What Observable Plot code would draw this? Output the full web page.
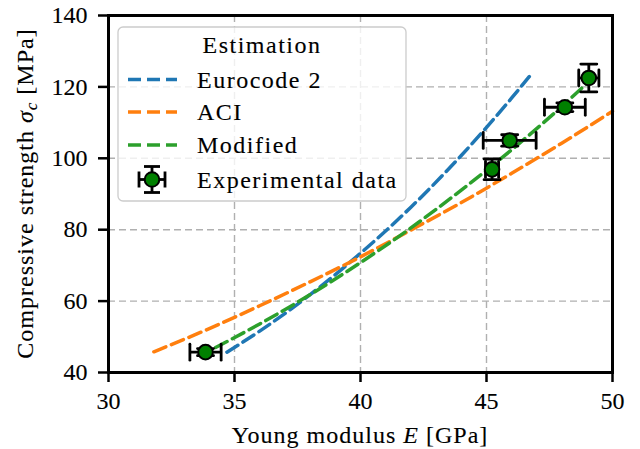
<!DOCTYPE html>
<html><head><meta charset="utf-8">
<script src="https://cdn.jsdelivr.net/npm/d3@7"></script>
<script src="https://cdn.jsdelivr.net/npm/@observablehq/plot@0.6"></script>
<style>body{margin:0;background:#fff} #chart{position:relative;width:640px;height:449px} #chart svg text{font-family:"Liberation Serif","DejaVu Serif",serif;stroke:black;stroke-width:0.12px}</style>
</head><body><div id="chart"></div>
<script>
const xTicks = [30, 35, 40, 45, 50];
const yTicks = [40, 60, 80, 100, 120, 140];

// Experimental data (E in GPa, sigma_c in MPa) with error bars
const expE    = [33.85, 45.22, 45.92, 48.11, 49.06];
const expS    = [45.7, 96.9, 105.0, 114.3, 122.5];
const expEErr = [0.62, 0.26, 1.05, 0.81, 0.40];
const expSErr = [1.0, 2.9, 1.6, 1.2, 3.9];

// Estimation curves
const ec2E = [34.7, 36, 38, 40, 42, 44, 46, 46.7];
const ec2S = [45.7, 51.6, 61.8, 73.4, 86.3, 100.8, 116.9, 122.9];
const aciE = [31.8, 34, 36, 38, 40, 42, 44, 46, 48, 50];
const aciS = [45.8, 52.3, 58.7, 65.4, 72.4, 79.9, 87.6, 95.8, 104.3, 113.2];
const modE = [34.25, 36, 38, 40, 42, 44, 46, 48, 49];
const modS = [47.0, 53.6, 61.8, 70.8, 80.5, 91.1, 102.4, 114.6, 121.1];

const seriesNames = ["Eurocode 2", "ACI", "Modified"];
const seriesColors = ["#1f77b4", "#ff7f0e", "#2ca02c"];
const expLabel = "Experimental data";
const legendTitle = "Estimation";

const toRows = (xs, ys) => xs.map((x, i) => ({E: x, S: ys[i]}));
const ec2 = toRows(ec2E, ec2S), aci = toRows(aciE, aciS), mod = toRows(modE, modS);
const exp = expE.map((e, i) => ({E: e, S: expS[i], xe: expEErr[i], ye: expSErr[i]}));

const DASH = "13,6";
const LW = 3.5;
const EBW = 2.8;
const CAP = 16;
const capShape = {draw(ctx, l) { ctx.moveTo(0, 0); ctx.lineTo(0, -l); }};
const FONT = "Liberation Serif, DejaVu Serif, serif";

const lineOpts = (c) => ({x: "E", y: "S", stroke: c, strokeWidth: LW, strokeDasharray: DASH, curve: "monotone-x"});
const capOpts = {length: CAP, anchor: "middle", shape: capShape, stroke: "black", strokeWidth: EBW};

const svg = Plot.plot({
  width: 640, height: 449,
  marginLeft: 108, marginRight: 28, marginTop: 15, marginBottom: 77,
  style: {fontFamily: FONT, fontSize: "24px", background: "white", overflow: "visible", color: "black"},
  x: {domain: [30, 50]},
  y: {domain: [40, 140]},
  marks: [
    Plot.gridX(xTicks.slice(1, -1), {stroke: "#b0b0b0", strokeOpacity: 1, strokeWidth: 1.4, strokeDasharray: "7,4"}),
    Plot.gridY(yTicks.slice(1, -1), {stroke: "#b0b0b0", strokeOpacity: 1, strokeWidth: 1.4, strokeDasharray: "7,4"}),
    Plot.line(ec2, lineOpts(seriesColors[0])),
    Plot.line(aci, lineOpts(seriesColors[1])),
    Plot.line(mod, lineOpts(seriesColors[2])),
    Plot.link(exp, {x1: d => d.E - d.xe, x2: d => d.E + d.xe, y1: "S", y2: "S", stroke: "black", strokeWidth: EBW}),
    Plot.link(exp, {x1: "E", x2: "E", y1: d => d.S - d.ye, y2: d => d.S + d.ye, stroke: "black", strokeWidth: EBW}),
    Plot.vector(exp, {x: d => d.E - d.xe, y: "S", rotate: 0, ...capOpts}),
    Plot.vector(exp, {x: d => d.E + d.xe, y: "S", rotate: 0, ...capOpts}),
    Plot.vector(exp, {x: "E", y: d => d.S - d.ye, rotate: 90, ...capOpts}),
    Plot.vector(exp, {x: "E", y: d => d.S + d.ye, rotate: 90, ...capOpts}),
    Plot.dot(exp, {x: "E", y: "S", r: 7.3, fill: "#008000", stroke: "black", strokeWidth: 2}),
    Plot.frame({stroke: "black", strokeWidth: 3}),
    Plot.axisX(xTicks, {tickSize: 10, strokeWidth: 2.5, tickPadding: 9, label: null, fill: "black"}),
    Plot.axisY(yTicks, {tickSize: 10, strokeWidth: 2.5, tickPadding: 11, label: null, fill: "black"})
  ]
});
document.getElementById("chart").appendChild(svg);

const s = d3.select(svg);
// Axis labels
const xl = s.append("text").attr("x", 360).attr("y", 443).attr("text-anchor", "middle")
  .attr("font-size", 24).attr("letter-spacing", "1px").attr("fill", "black");
xl.append("tspan").text("Young modulus ");
xl.append("tspan").attr("font-style", "italic").text("E");
xl.append("tspan").text(" [GPa]");

const yl = s.append("text").attr("transform", "translate(33,193.5) rotate(-90)").attr("text-anchor", "middle")
  .attr("font-size", 24).attr("letter-spacing", "1px").attr("fill", "black");
yl.append("tspan").text("Compressive strength ");
yl.append("tspan").attr("font-style", "italic").text("σ");
yl.append("tspan").attr("font-style", "italic").attr("font-size", 17).attr("dy", 4).text("c");
yl.append("tspan").attr("dy", -4).text(" [MPa]");

// Legend
const lg = s.append("g").attr("font-size", 24).attr("fill", "black").attr("text-anchor", "start");
lg.append("rect").attr("x", 118).attr("y", 27).attr("width", 288).attr("height", 174).attr("rx", 5)
  .attr("fill", "white").attr("fill-opacity", 0.8).attr("stroke", "#cccccc").attr("stroke-width", 1.3);
lg.append("text").attr("x", 262).attr("y", 53).attr("text-anchor", "middle").attr("letter-spacing", "1.5px").text(legendTitle);
const rowsY = [79.5, 112, 145];
seriesNames.forEach((name, i) => {
  lg.append("line").attr("x1", 128).attr("x2", 177).attr("y1", rowsY[i]).attr("y2", rowsY[i])
    .attr("stroke", seriesColors[i]).attr("stroke-width", LW).attr("stroke-dasharray", DASH);
  lg.append("text").attr("x", 197).attr("y", rowsY[i] + 8).attr("letter-spacing", "1.5px").text(name);
});
const ey = 179.5, ex = 152, h = CAP / 2;
const eg = lg.append("g").attr("stroke", "black").attr("stroke-width", EBW);
eg.append("line").attr("x1", ex - 13).attr("x2", ex + 13).attr("y1", ey).attr("y2", ey);
eg.append("line").attr("x1", ex).attr("x2", ex).attr("y1", ey - 13).attr("y2", ey + 13);
eg.append("line").attr("x1", ex - 13).attr("x2", ex - 13).attr("y1", ey - h).attr("y2", ey + h);
eg.append("line").attr("x1", ex + 13).attr("x2", ex + 13).attr("y1", ey - h).attr("y2", ey + h);
eg.append("line").attr("x1", ex - h).attr("x2", ex + h).attr("y1", ey - 13).attr("y2", ey - 13);
eg.append("line").attr("x1", ex - h).attr("x2", ex + h).attr("y1", ey + 13).attr("y2", ey + 13);
lg.append("circle").attr("cx", ex).attr("cy", ey).attr("r", 7.3).attr("fill", "#008000").attr("stroke", "black").attr("stroke-width", 2);
lg.append("text").attr("x", 197).attr("y", ey + 8).attr("letter-spacing", "1.5px").text(expLabel);
</script>
</body></html>
